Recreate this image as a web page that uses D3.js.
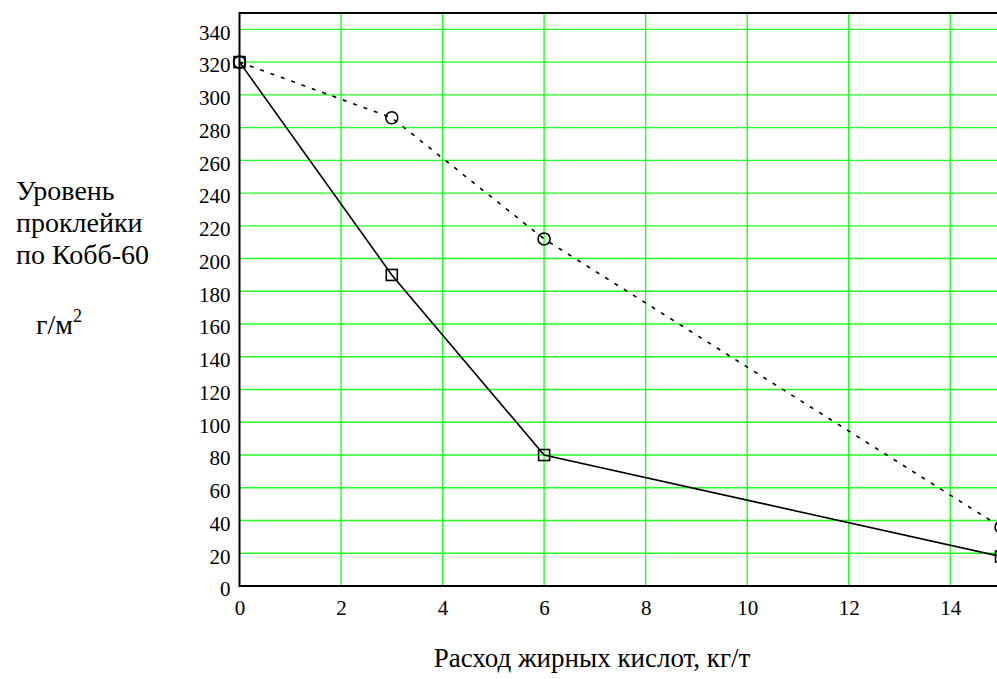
<!DOCTYPE html>
<html>
<head>
<meta charset="utf-8">
<script src="https://cdn.jsdelivr.net/npm/d3@7"></script>
<style>
  html, body { margin: 0; padding: 0; background: #fff; }
  svg { display: block; }
  text { font-family: "Liberation Serif", "Times New Roman", serif; fill: #000; }
</style>
</head>
<body>
<script>
// Sizing level vs. fatty-acid consumption
const xValues = [0, 3, 6, 15];
const seriesSolid = [320, 190, 80, 18];   // squares, solid line
const seriesDotted = [320, 286, 212, 36]; // circles, dotted line
const xTicks = [0, 2, 4, 6, 8, 10, 12, 14];
const yTicks = [0, 20, 40, 60, 80, 100, 120, 140, 160, 180, 200, 220, 240, 260, 280, 300, 320, 340];
const yTitleLines = ["Уровень", "проклейки", "по Кобб-60"];
const xTitle = "Расход жирных кислот, кг/т";

const W = 997, H = 679;
const plotL = 239.5, plotR = 1001, plotT = 13, plotB = 586;

const svg = d3.select("body").append("svg").attr("width", W).attr("height", H);

const x = d3.scaleLinear().domain([0, 15]).range([plotL, plotR]);
const y = d3.scaleLinear().domain([0, 350]).range([plotB, plotT]);

// grid
const grid = svg.append("g").attr("stroke", "#22ff22").attr("stroke-width", 1.4);
grid.selectAll("line.v").data(xTicks.filter(d => d > 0)).join("line").attr("class", "v")
  .attr("x1", d => x(d)).attr("x2", d => x(d)).attr("y1", plotT).attr("y2", plotB);
grid.selectAll("line.h").data(yTicks.filter(d => d > 0)).join("line").attr("class", "h")
  .attr("x1", plotL).attr("x2", plotR).attr("y1", d => y(d)).attr("y2", d => y(d));

// frame
svg.append("path").attr("d", `M${plotR},${plotT}H${plotL}V${plotB}H${plotR}`)
  .attr("stroke", "#000").attr("stroke-width", 2).attr("fill", "none");

// axes labels via d3 axes (tick lines hidden)
const xAxis = svg.append("g").attr("transform", `translate(0,${plotB})`)
  .call(d3.axisBottom(x).tickValues(xTicks).tickSize(0).tickPadding(14).tickFormat(d3.format("d")));
const yAxis = svg.append("g").attr("transform", `translate(${plotL},0)`)
  .call(d3.axisLeft(y).tickValues(yTicks).tickSize(0).tickPadding(9).tickFormat(d3.format("d")));
[xAxis, yAxis].forEach(a => {
  a.select(".domain").remove();
  a.selectAll("text").attr("font-size", 21).attr("font-family", '"Liberation Serif", "Times New Roman", serif');
});
yAxis.selectAll("text").attr("dy", "0.47em");

// lines
const line = d3.line().x((d, i) => x(xValues[i])).y(d => y(d));
svg.append("path").datum(seriesDotted).attr("d", line)
  .attr("fill", "none").attr("stroke", "#000").attr("stroke-width", 1.6)
  .attr("stroke-dasharray", "4,7");
svg.append("path").datum(seriesSolid).attr("d", line)
  .attr("fill", "none").attr("stroke", "#000").attr("stroke-width", 1.6);

// markers
svg.append("g").selectAll("rect").data(seriesSolid).join("rect")
  .attr("x", (d, i) => x(xValues[i]) - 5.5).attr("y", d => y(d) - 5.5)
  .attr("width", 11).attr("height", 11)
  .attr("fill", "none").attr("stroke", "#000").attr("stroke-width", 1.6);
svg.append("g").selectAll("circle").data(seriesDotted).join("circle")
  .attr("cx", (d, i) => x(xValues[i])).attr("cy", d => y(d)).attr("r", 6)
  .attr("fill", "none").attr("stroke", "#000").attr("stroke-width", 1.6);

// y title
const yt = svg.append("g").attr("font-size", 28);
yTitleLines.forEach((t, i) => {
  yt.append("text").attr("x", 16).attr("y", 200 + i * 32).text(t);
});
const unit = yt.append("text").attr("x", 36).attr("y", 334);
unit.append("tspan").text("г/м");
unit.append("tspan").attr("dy", -12).attr("font-size", 18).text("2");

// x title
svg.append("text").attr("x", 592).attr("y", 667).attr("text-anchor", "middle")
  .attr("font-size", 27).text(xTitle);
</script>
</body>
</html>
